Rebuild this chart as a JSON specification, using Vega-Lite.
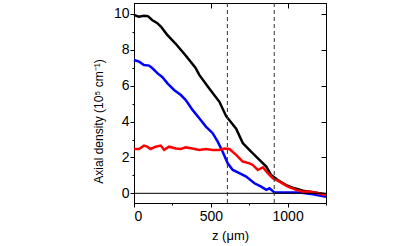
{
  "$schema": "https://vega.github.io/schema/vega-lite/v6.json",
  "autosize": "none",
  "width": 192,
  "height": 200,
  "padding": {"left": 134, "top": 3, "right": 89, "bottom": 43},
  "background": "white",
  "config": {
    "font": "Liberation Sans",
    "view": {"stroke": "black", "strokeWidth": 1},
    "axis": {"grid": false, "domainColor": "black", "tickColor": "black", "labelColor": "black", "titleColor": "black", "labelFontSize": 14, "titleFontSize": 12, "titleFontWeight": "normal"}
  },
  "datasets": {
    "curves": [
      {"s": "total", "z": 0, "v": 9.95}, {"s": "total", "z": 30, "v": 9.85}, {"s": "total", "z": 65, "v": 9.9}, {"s": "total", "z": 90, "v": 9.88},
      {"s": "total", "z": 120, "v": 9.65}, {"s": "total", "z": 150, "v": 9.5}, {"s": "total", "z": 175, "v": 9.3}, {"s": "total", "z": 215, "v": 8.85},
      {"s": "total", "z": 270, "v": 8.35}, {"s": "total", "z": 335, "v": 7.7}, {"s": "total", "z": 400, "v": 7.0}, {"s": "total", "z": 425, "v": 6.6},
      {"s": "total", "z": 490, "v": 5.85}, {"s": "total", "z": 556, "v": 5.1}, {"s": "total", "z": 600, "v": 4.3}, {"s": "total", "z": 665, "v": 3.6},
      {"s": "total", "z": 708, "v": 2.8}, {"s": "total", "z": 762, "v": 2.32}, {"s": "total", "z": 817, "v": 1.86}, {"s": "total", "z": 861, "v": 1.49},
      {"s": "total", "z": 893, "v": 1.02}, {"s": "total", "z": 936, "v": 0.74}, {"s": "total", "z": 991, "v": 0.46}, {"s": "total", "z": 1045, "v": 0.28},
      {"s": "total", "z": 1100, "v": 0.15}, {"s": "total", "z": 1165, "v": 0.06}, {"s": "total", "z": 1250, "v": -0.05},

      {"s": "blue", "z": 0, "v": 7.43}, {"s": "blue", "z": 33, "v": 7.34}, {"s": "blue", "z": 65, "v": 7.15}, {"s": "blue", "z": 98, "v": 7.12},
      {"s": "blue", "z": 120, "v": 6.97}, {"s": "blue", "z": 152, "v": 6.7}, {"s": "blue", "z": 185, "v": 6.47}, {"s": "blue", "z": 218, "v": 6.13},
      {"s": "blue", "z": 261, "v": 5.76}, {"s": "blue", "z": 305, "v": 5.48}, {"s": "blue", "z": 337, "v": 5.2}, {"s": "blue", "z": 381, "v": 4.65},
      {"s": "blue", "z": 425, "v": 4.18}, {"s": "blue", "z": 468, "v": 3.72}, {"s": "blue", "z": 512, "v": 3.35}, {"s": "blue", "z": 545, "v": 2.88},
      {"s": "blue", "z": 577, "v": 2.32}, {"s": "blue", "z": 610, "v": 1.67}, {"s": "blue", "z": 643, "v": 1.3}, {"s": "blue", "z": 686, "v": 1.12},
      {"s": "blue", "z": 730, "v": 0.93}, {"s": "blue", "z": 784, "v": 0.56}, {"s": "blue", "z": 828, "v": 0.37}, {"s": "blue", "z": 861, "v": 0.19},
      {"s": "blue", "z": 882, "v": 0.28}, {"s": "blue", "z": 915, "v": 0.04}, {"s": "blue", "z": 991, "v": 0.04}, {"s": "blue", "z": 1078, "v": 0.04},
      {"s": "blue", "z": 1165, "v": -0.05}, {"s": "blue", "z": 1250, "v": -0.19},

      {"s": "red", "z": 0, "v": 2.47}, {"s": "red", "z": 33, "v": 2.47}, {"s": "red", "z": 65, "v": 2.66}, {"s": "red", "z": 86, "v": 2.6},
      {"s": "red", "z": 108, "v": 2.47}, {"s": "red", "z": 141, "v": 2.6}, {"s": "red", "z": 174, "v": 2.66}, {"s": "red", "z": 196, "v": 2.42},
      {"s": "red", "z": 228, "v": 2.6}, {"s": "red", "z": 272, "v": 2.5}, {"s": "red", "z": 305, "v": 2.47}, {"s": "red", "z": 337, "v": 2.56},
      {"s": "red", "z": 381, "v": 2.5}, {"s": "red", "z": 425, "v": 2.42}, {"s": "red", "z": 468, "v": 2.47}, {"s": "red", "z": 512, "v": 2.42},
      {"s": "red", "z": 556, "v": 2.42}, {"s": "red", "z": 588, "v": 2.5}, {"s": "red", "z": 621, "v": 2.47}, {"s": "red", "z": 665, "v": 2.14},
      {"s": "red", "z": 708, "v": 1.77}, {"s": "red", "z": 752, "v": 1.67}, {"s": "red", "z": 773, "v": 1.58}, {"s": "red", "z": 806, "v": 1.3},
      {"s": "red", "z": 839, "v": 1.45}, {"s": "red", "z": 871, "v": 1.12}, {"s": "red", "z": 904, "v": 0.84}, {"s": "red", "z": 947, "v": 0.65},
      {"s": "red", "z": 1002, "v": 0.37}, {"s": "red", "z": 1056, "v": 0.19}, {"s": "red", "z": 1100, "v": 0.09}, {"s": "red", "z": 1143, "v": 0.1},
      {"s": "red", "z": 1198, "v": 0.0}, {"s": "red", "z": 1250, "v": -0.09}
    ],
    "vlines": [{"z": 608}, {"z": 913}],
    "zero": [{"v": 0}]
  },
  "resolve": {"scale": {"x": "independent", "y": "independent"}, "axis": {"x": "independent", "y": "independent"}},
  "layer": [
    {
      "data": {"name": "curves"},
      "mark": {"type": "line", "strokeWidth": 2.5},
      "encoding": {
        "x": {"field": "z", "type": "quantitative", "scale": {"domain": [0, 1250], "nice": false},
              "axis": {"orient": "bottom", "title": "z (μm)", "format": "d", "values": [0,250,500,750,1000,1250], "labelExpr": "datum.value % 500 === 0 ? datum.label : ''", "tickSize": {"condition": {"test": "datum.value % 500 === 0", "value": 4}, "value": 2}, "labelPadding": 2, "titleFontSize": 13, "titlePadding": 6}},
        "y": {"field": "v", "type": "quantitative", "scale": {"domain": [-0.54, 10.61], "nice": false, "zero": false},
              "axis": {"orient": "left", "title": "Axial density (10⁵ cm⁻¹)", "values": [0,1,2,3,4,5,6,7,8,9,10], "labelExpr": "datum.value % 2 === 0 ? datum.label : ''", "tickSize": {"condition": {"test": "datum.value % 2 === 0", "value": 4}, "value": 2}, "labelPadding": 1, "titlePadding": 8, "titleY": 118}},
        "color": {"field": "s", "type": "nominal", "scale": {"domain": ["total", "blue", "red"], "range": ["black", "#0000ff", "#ff0000"]}, "legend": null},
        "order": {"field": "z", "type": "quantitative"}
      }
    },
    {
      "data": {"name": "zero"},
      "mark": {"type": "rule", "color": "black", "strokeWidth": 1},
      "encoding": {
        "y": {"field": "v", "type": "quantitative", "scale": {"domain": [-0.54, 10.61], "nice": false, "zero": false},
              "axis": {"orient": "right", "labelOpacity": 0, "title": null, "domain": true, "values": [0,2,4,6,8,10], "tickSize": -5, "tickWidth": 1}}
      }
    },
    {
      "data": {"name": "vlines"},
      "mark": {"type": "rule", "color": "#333", "strokeWidth": 1, "strokeDash": [4, 3]},
      "encoding": {
        "x": {"field": "z", "type": "quantitative", "scale": {"domain": [0, 1250], "nice": false},
              "axis": {"orient": "top", "labelOpacity": 0, "title": null, "domain": true, "values": [0,500,1000], "tickSize": -5, "tickWidth": 1}}
      }
    }
  ]
}
